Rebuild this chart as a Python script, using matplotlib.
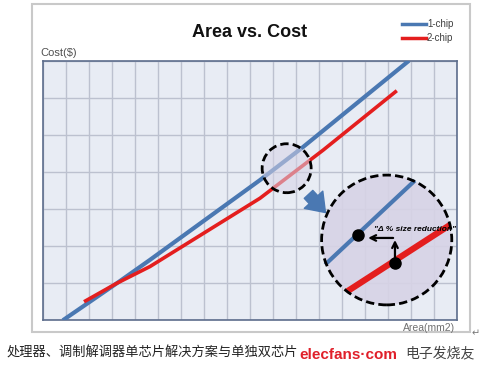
import numpy as np
import matplotlib
matplotlib.use("Agg")
import matplotlib.pyplot as plt
from matplotlib.patches import Ellipse, Rectangle
from matplotlib.lines import Line2D

# values (grid units: 18 columns x 7 rows)
area_1chip = [0.85, 3.2, 4.64, 9.42, 11.23, 15.9]
cost_1chip = [0.0, 1.0, 1.63, 3.78, 4.64, 7.0]
area_2chip = [1.77, 3.2, 4.64, 9.42, 12.17, 15.37]
cost_2chip = [0.5, 1.0, 1.45, 3.29, 4.59, 6.19]

# magnified view inside the big circle
zoom_area_1chip = [12.32, 16.09]
zoom_cost_1chip = [1.54, 3.73]
zoom_area_2chip = [13.19, 17.68]
zoom_cost_2chip = [0.77, 2.57]
point_1chip = (13.69, 2.30)
point_2chip = (15.29, 1.55)

title = "Area vs. Cost"
series_names = ["1-chip", "2-chip"]
caption = "处理器、调制解调器单芯片解决方案与单独双芯片"

blue = "#4a78b2"
red = "#e41e1e"
lilac = "#d7d3e6"
latin = ["Liberation Sans", "DejaVu Sans"]

fig = plt.figure(figsize=(5, 3.75), dpi=100)
fig.patch.set_facecolor("white")

# outer frame of the slide
fig.add_artist(Rectangle((0.064, 0.1147), 0.876, 0.8747, transform=fig.transFigure,
                         fill=False, edgecolor="#c9c9c9", lw=1.5))

ax = fig.add_axes([0.0866, 0.1459, 0.828, 0.6923])
ax.set_facecolor("#e8ecf4")
ax.set_xlim(0, 18)
ax.set_ylim(0, 7)
ax.set_xticks(np.arange(0, 19))
ax.set_yticks(np.arange(0, 8))
ax.tick_params(length=0, labelbottom=False, labelleft=False)
ax.grid(True, color="#bcc1cf", lw=1.0)
ax.set_axisbelow(True)
for s in ax.spines.values():
    s.set_color("#5d6d8c")
    s.set_linewidth(1.2)

ax.plot(area_1chip, cost_1chip, color=blue, lw=3, solid_capstyle="butt", zorder=3)
ax.plot(area_2chip, cost_2chip, color=red, lw=2.6, solid_capstyle="butt", zorder=3)

# small circle on the curves
ax.add_patch(Ellipse((10.58, 4.10), 2.13, 1.32, facecolor=lilac, alpha=0.55,
                     edgecolor="none", zorder=4))
ax.add_patch(Ellipse((10.58, 4.10), 2.13, 1.32, fill=False, edgecolor="black",
                     lw=2, ls=(0, (3, 1.5)), zorder=5))

# block arrow towards the magnified view
ax.annotate("", xy=(12.35, 2.85), xytext=(11.45, 3.45),
            arrowprops=dict(arrowstyle="simple,head_width=1.3,head_length=0.9,tail_width=0.6",
                            color=blue, mutation_scale=14), zorder=5)

# big magnified circle
big = Ellipse((14.93, 2.165), 5.66, 3.5, facecolor=lilac, edgecolor="none", alpha=0.9, zorder=4)
ax.add_patch(big)
l1, = ax.plot(zoom_area_1chip, zoom_cost_1chip, color=blue, lw=3, zorder=6)
l2, = ax.plot(zoom_area_2chip, zoom_cost_2chip, color=red, lw=4.5, zorder=6)
l2.set_clip_path(big)
ax.add_patch(Ellipse((14.93, 2.165), 5.66, 3.5, fill=False, edgecolor="black",
                     lw=2, ls=(0, (3, 1.5)), zorder=8))

ax.plot(*point_1chip, "o", color="black", ms=8, zorder=9)
ax.plot(*point_2chip, "o", color="black", ms=8, zorder=9)
ax.annotate("", xy=(point_2chip[0], 2.24), xytext=point_2chip,
            arrowprops=dict(arrowstyle="->", color="black", lw=1.6), zorder=9)
ax.annotate("", xy=(14.0, 2.22), xytext=(point_2chip[0] + 0.04, 2.22),
            arrowprops=dict(arrowstyle="->", color="black", lw=1.6), zorder=9)
ax.text(14.4, 2.45, "\"\u0394 % size reduction\"", fontsize=6, style="italic",
        fontweight="bold", family=latin, va="center", ha="left", zorder=10)

# title, axis names, legend
fig.text(0.5, 0.913, title, ha="center", va="center", fontsize=13,
         fontweight="bold", family=latin, color="#111111")
fig.text(0.08, 0.858, "Cost($)", ha="left", va="center", fontsize=8,
         family=latin, color="#505050")
fig.text(0.806, 0.126, "Area(mm2)", ha="left", va="center", fontsize=7.5,
         family=latin, color="#707070")
fig.text(0.952, 0.112, "\u21b5", ha="center", va="center", fontsize=7, color="#777777")

for i, (name, col) in enumerate(zip(series_names, [blue, red])):
    y = 1 - (24 + 14 * i) / 375
    fig.add_artist(Line2D([0.803, 0.851], [y, y], transform=fig.transFigure,
                          color=col, lw=2.5))
    fig.text(0.854, y, name, ha="left", va="center", fontsize=7,
             family=latin, color="#404040")

# caption with watermarks
fig.text(0.014, 0.058, caption, ha="left", va="center", fontsize=9.5,
         family=["Noto Sans CJK SC", "DejaVu Sans"], color="#222222")
fig.text(0.598, 0.053, "elecfans\u00b7com", ha="left", va="center", fontsize=11,
         fontweight="bold", family=latin, color="#e0202a")
fig.text(0.81, 0.058, "电子发烧友", ha="left", va="center", fontsize=10,
         family=["Noto Sans CJK SC", "DejaVu Sans"], color="#444444", style="italic")

fig.savefig("out.png", dpi=100)
